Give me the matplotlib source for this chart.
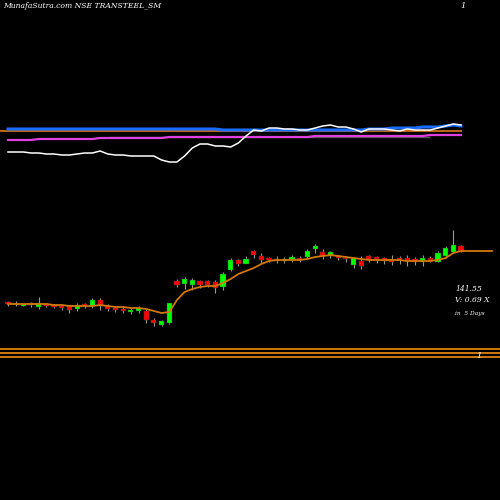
import matplotlib
matplotlib.use("Agg")
import matplotlib.pyplot as plt
import numpy as np

# candle values (screen units, larger = lower)
opens = [302, 303, 306, 303, 307, 304, 305, 306, 306, 309, 304, 306, 300, 306, 308, 309, 312, 311, 311, 320,
         325, 323, 281, 284, 285, 281, 281, 282, 287, 270, 260, 264, 251, 256, 258, 259, 261, 260, 258, 257,
         249, 252, 256, 256, 258, 265, 261, 256, 257, 258, 259, 258, 258, 259, 262, 258, 262, 256, 252, 246]
closes = [304, 304, 304, 305, 303, 306, 307, 308, 310, 305, 306, 300, 306, 309, 310, 311, 310, 308, 320, 323,
          321, 303, 285, 279, 280, 285, 285, 288, 274, 260, 264, 259, 255, 260, 260, 261, 259, 257, 260, 251,
          246, 256, 252, 258, 259, 258, 266, 260, 259, 261, 262, 260, 261, 262, 258, 260, 253, 248, 245, 251]
highs = [301, 301, 303, 302, 297, 303, 304, 305, 305, 303, 303, 298, 298, 304, 306, 307, 308, 306, 309, 318,
         320, 303, 279, 277, 278, 280, 280, 280, 272, 258, 259, 256, 250, 253, 257, 256, 257, 255, 256, 249,
         244, 249, 251, 255, 256, 257, 256, 255, 256, 257, 255, 256, 255, 257, 255, 256, 251, 246, 230, 245]
lows = [306, 306, 306, 307, 309, 307, 308, 310, 313, 311, 308, 308, 310, 311, 312, 313, 314, 313, 323, 326,
        326, 324, 287, 289, 290, 288, 287, 293, 290, 271, 266, 263, 258, 263, 262, 263, 263, 262, 262, 258,
        253, 259, 258, 260, 262, 268, 269, 262, 263, 264, 265, 264, 266, 265, 266, 262, 262, 258, 250, 252]
ma = [304, 304, 304, 304, 304, 304, 305, 305, 306, 306, 306, 306, 305, 306, 307, 307, 308, 308, 309, 311,
      313, 312, 300, 292, 289, 287, 286, 286, 283, 279, 274, 271, 268, 264, 261, 260, 260, 260, 260, 259,
      257, 256, 255, 256, 257, 258, 259, 260, 260, 260, 260, 260, 261, 261, 261, 261, 260, 258, 253, 251]

# indicator panel lines
white_line = [152, 152, 152, 153, 153, 154, 154, 155, 155, 154, 153, 153, 151, 154, 155, 155, 156, 156, 156, 156,
              160, 162, 162, 156, 148, 144, 144, 146, 146, 147, 143, 136, 130, 131, 128, 128, 129, 129, 130, 130,
              128, 126, 125, 127, 127, 129, 132, 129, 129, 129, 130, 131, 129, 130, 130, 130, 128, 126, 124, 125]
blue_line = [129, 129, 129, 129, 129, 129, 129, 129, 129, 129, 129, 129, 129, 129, 129, 129, 129, 129, 129, 129,
             129, 129, 129, 129, 129, 129, 129, 129, 130, 130, 130, 130, 130, 130, 130, 130, 130, 130, 130, 130,
             130, 130, 130, 130, 130, 130, 130, 129, 129, 129, 128, 128, 128, 128, 127, 127, 127, 126, 125, 126]
magenta_line = [140, 140, 140, 140, 139, 139, 139, 139, 139, 139, 139, 139, 138, 138, 138, 138, 138, 138, 138, 138,
                138, 137, 137, 137, 137, 137, 137, 137, 137, 137, 137, 137, 137, 137, 137, 137, 137, 137, 137, 137,
                136, 136, 136, 136, 136, 136, 136, 136, 136, 136, 136, 136, 136, 136, 136, 135, 135, 135, 135, 135]
brown_level = 131
bottom_levels = [349, 353, 357]

x = np.linspace(8, 461, len(opens))
fig = plt.figure(figsize=(5, 5), dpi=100, facecolor="black")
ax = fig.add_axes([0, 0, 1, 1], facecolor="black")
ax.set_xlim(0, 500)
ax.set_ylim(500, 0)
ax.axis("off")

w = 5.2
for xi, o, c, h, l in zip(x, opens, closes, highs, lows):
    up = c < o
    col = "#00ff00" if up else "#ff0000"
    ax.vlines(xi, h, l, color="#999999", lw=0.8, zorder=2)
    lo, hi = min(o, c), max(o, c)
    ax.add_patch(plt.Rectangle((xi - w / 2, lo), w, max(hi - lo, 1.2), facecolor=col,
                               edgecolor="#444444", lw=0.3, zorder=3))
ax.plot(list(x) + [492], ma + [ma[-1]], color="#d2780a", lw=1.3, zorder=4)

ax.hlines(brown_level, 0, 462, color="#b8651a", lw=1.5)
ax.plot(x, blue_line, color="#1a6cff", lw=2.2)
ax.plot(x, magenta_line, color="#e040e0", lw=1.6)
ax.hlines(137, 110, 430, color="#555555", lw=1, zorder=1)
ax.plot(x, white_line, color="white", lw=1.1)

for yl in bottom_levels:
    ax.hlines(yl, 0, 500, color="#d2780a", lw=1.4)
ax.text(479, 356, "1", color="white", fontsize=6, style="italic", family="DejaVu Serif",
        ha="center", va="center")

ax.text(3, 6, "MunafaSutra.com NSE TRANSTEEL_SM", color="white", fontsize=5.5, style="italic",
        family="DejaVu Serif", va="center")
ax.text(460, 6, "1", color="white", fontsize=6, style="italic", family="DejaVu Serif", va="center")
ax.text(455, 289, "141.55", color="white", fontsize=5.5, style="italic", family="DejaVu Serif", va="center")
ax.text(455, 300, "V: 0.69 X", color="white", fontsize=5.5, style="italic", family="DejaVu Serif", va="center")
ax.text(455, 314, "in  5 Days", color="white", fontsize=4.2, style="italic", family="DejaVu Serif", va="center")

fig.savefig("out.png", dpi=100, facecolor="black")
